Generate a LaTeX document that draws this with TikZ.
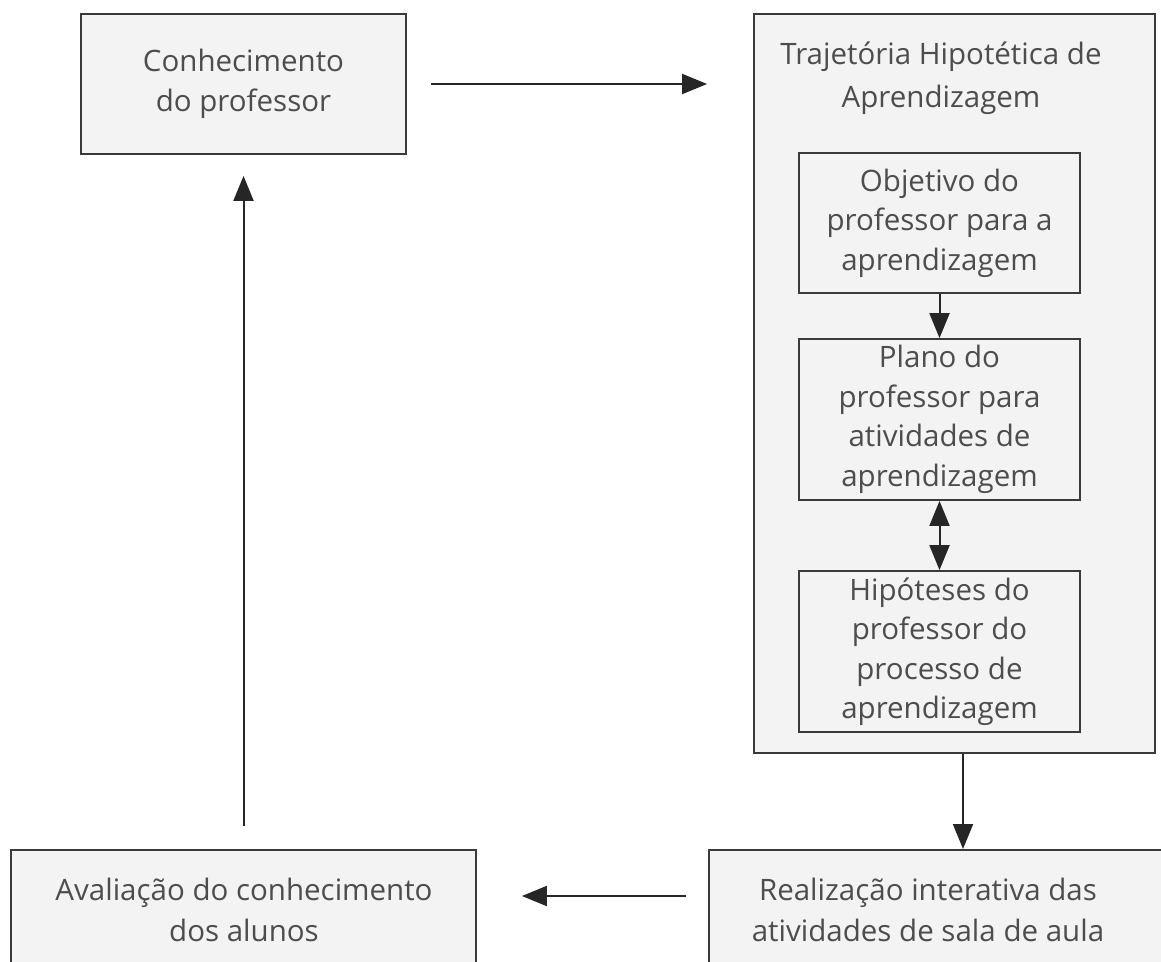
\documentclass[tikz,border=0pt]{standalone}
\usepackage{fontspec}
\setmainfont{Open Sans}
\usetikzlibrary{arrows.meta,positioning}
\definecolor{boxfill}{HTML}{F3F3F3}
\definecolor{boxline}{HTML}{3A3A3A}
\definecolor{boxtext}{HTML}{4D4D4D}
\tikzstyle{caixa} = [draw=boxline,fill=boxfill,line width=1.8pt,text=boxtext,align=center,
    inner sep=0pt,font=\fontsize{29.5}{39.5}\selectfont]
\tikzstyle{rotulo} = [text=boxtext,align=center,font=\fontsize{29.5}{41}\selectfont]
\tikzstyle{arrow} = [line width=2pt,->,>={Triangle[length=25pt,width=20pt]},draw=black!85]

\begin{document}
\begin{tikzpicture}[x=1pt,y=-1pt]
    \useasboundingbox (0,0) rectangle (1161,961);
    \clip (0,0) rectangle (1161,961);
    
    \node[caixa,minimum width=325pt,minimum height=140pt] (conh) at (243.5,84)
        {Conhecimento\\do professor};
    \node[caixa,minimum width=401pt,minimum height=739pt] (traj) at (954.5,383.5) {};
    \node[rotulo,font=\fontsize{29.5}{43}\selectfont] (titulo) at (941,78)
        {Trajetória Hipotética de\\Aprendizagem};
    \node[caixa,minimum width=281pt,minimum height=140pt] (obj) at (939.5,223)
        {Objetivo do\\professor para a\\aprendizagem};
    \node[caixa,minimum width=281pt,minimum height=161pt] (plano) at (939.5,419.5)
        {Plano do\\professor para\\atividades de\\aprendizagem};
    \node[caixa,minimum width=281pt,minimum height=161pt] (hip) at (939.5,651.5)
        {Hipóteses do\\professor do\\processo de\\aprendizagem};
    \node[caixa,minimum width=465pt,minimum height=150pt,anchor=north] (aval) at (243.5,849) {};
    \node[rotulo] (avaltxt) at (244,910)
        {Avaliação do conhecimento\\dos alunos};
    \node[caixa,minimum width=460pt,minimum height=150pt,anchor=north west] (real) at (708,849) {};
    \node[rotulo] (realtxt) at (928,910)
        {Realização interativa das\\atividades de sala de aula};
    
    \draw[arrow,shorten <=24pt,shorten >=46pt] (conh.east) -- (traj.west |- conh.east);
    \draw[arrow] (obj) -- (plano);
    \draw[arrow,<->] (plano) -- (hip);
    \draw[arrow] ([xshift=8.5pt]traj.south) -- ([xshift=8.5pt]traj.south |- real.north);
    \draw[arrow,shorten <=22pt,shorten >=45pt] ([yshift=-47pt]real.north west) -- ([yshift=-47pt]aval.north east);
    \draw[arrow,shorten <=23pt,shorten >=21pt] (aval.north) -- (conh.south);
    
\end{tikzpicture}
\end{document}
